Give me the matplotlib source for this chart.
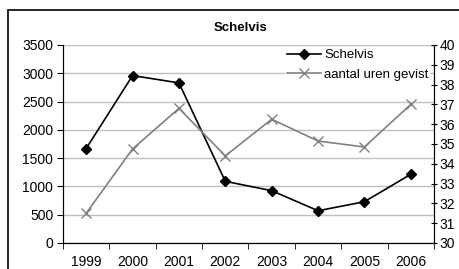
import matplotlib
matplotlib.use("Agg")
import matplotlib.pyplot as plt
from matplotlib.patches import Rectangle

plt.rcParams['font.family'] = ['Liberation Sans', 'DejaVu Sans']

years = ['1999', '2000', '2001', '2002', '2003', '2004', '2005', '2006']
schelvis = [1670, 2960, 2830, 1090, 925, 570, 730, 1215]
uren = [31.5, 34.75, 36.8, 34.4, 36.25, 35.15, 34.85, 37.0]

fig = plt.figure(figsize=(4.6, 2.69), dpi=100)
ax = fig.add_axes([63/460, 1-243/269, (434-63)/460, (243-45)/269])
ax2 = ax.twinx()

x = range(len(years))
l1, = ax.plot(x, schelvis, color='black', marker='D', markersize=5, lw=1.2, zorder=3)
l2, = ax2.plot(x, uren, color='#808080', marker='x', markersize=7, mew=1.0, lw=1.2)

ax.set_xlim(-0.5, len(years) - 0.5)
ax.set_ylim(0, 3500)
ax.set_yticks(range(0, 3501, 500))
ax2.set_ylim(30, 40)
ax2.set_yticks(range(30, 41))

ax.set_xticks(list(x))
ax.set_xticklabels(years)
ax.set_xticks([i - 0.5 for i in range(len(years) + 1)], minor=True)
ax.tick_params(axis='x', which='major', length=0, pad=9)
ax.tick_params(axis='x', which='minor', length=4, direction='out')
ax.tick_params(axis='y', length=4, direction='out', pad=3)
ax2.tick_params(axis='y', length=4, direction='inout', pad=2)
for a in (ax, ax2):
    a.tick_params(labelsize=10)
    a.spines['top'].set_visible(False)
ax.yaxis.grid(True, color='#c0c0c0', lw=1)
ax.set_axisbelow(True)

fig.text(241/460, 1-28/269, 'Schelvis', ha='center', va='center', fontsize=9.5, fontweight='bold')

leg = ax2.legend([l1, l2], ['Schelvis', 'aantal uren gevist'], loc='upper left',
                 bbox_to_anchor=(285/460, 1-47/269), bbox_transform=fig.transFigure,
                 frameon=True, fontsize=9.5, handlelength=2.6, handletextpad=0.2,
                 labelspacing=0.55, borderpad=0.15, borderaxespad=0)
leg.get_frame().set_edgecolor('none')
leg.get_frame().set_facecolor('white')
leg.get_frame().set_alpha(1)

fig.patches.append(Rectangle((8/460, -0.1), 1.2, 1 - 10/269 + 0.1, transform=fig.transFigure,
                             fill=False, edgecolor='black', lw=1.2, clip_on=False))

fig.savefig('out.png', dpi=100)
